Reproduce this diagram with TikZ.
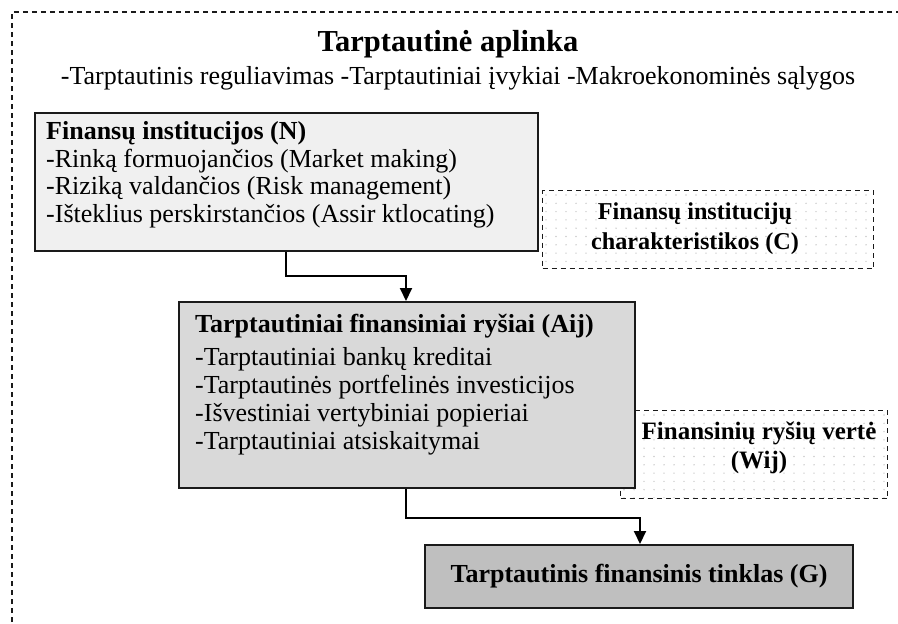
\documentclass[tikz,border=0pt]{standalone}
\usepackage{fontspec}
\setmainfont{Liberation Serif}
\usetikzlibrary{arrows.meta}

\definecolor{fillN}{HTML}{F0F0F0}
\definecolor{fillA}{HTML}{D9D9D9}
\definecolor{fillG}{HTML}{BFBFBF}
\definecolor{dotgray}{HTML}{CCCCCC}
\definecolor{edge}{HTML}{1A1A1A}

\tikzset{
  solidbox/.style={draw=edge, line width=2pt, anchor=north west, inner sep=0pt},
  dashbox/.style={draw=edge, line width=1.4pt, dash pattern=on 5pt off 4pt, anchor=north west, inner sep=0pt},
  bodytxt/.style={anchor=west, inner sep=0pt, font=\fontsize{26}{28}\selectfont},
  headtxt/.style={anchor=west, inner sep=0pt, font=\fontsize{26}{28}\selectfont\bfseries},
  sidetxt/.style={align=center, inner sep=0pt},
  arr/.style={draw=black, line width=2pt, -{Triangle[width=12pt,length=13pt]}},
}

\begin{document}
\begin{tikzpicture}[x=1pt,y=-1pt]
\useasboundingbox (0,0) rectangle (898,624);
\clip (0,0) rectangle (898,624);

% outer environment frame (continues past the page edges)
\draw[edge, line width=1.4pt, dash pattern=on 5pt off 4pt] (12,640) -- (12,12) -- (910,12);

% title and subtitle
\node[inner sep=0pt, font=\fontsize{30.5}{32}\selectfont\bfseries] (title) at (448,44) {Tarptautinė aplinka};
\node[inner sep=0pt, font=\fontsize{26}{28}\selectfont] (sub) at (458,78)
  {-Tarptautinis reguliavimas -Tarptautiniai įvykiai -Makroekonominės sąlygos};

% institutions characteristics (dotted)
\begin{scope}
  \clip (543,191) rectangle (872,267);
  \foreach \j in {0,...,9} \foreach \i in {0,...,33}
    \fill[dotgray] (546+\i*10, 195+\j*8.3) circle (0.8pt);
\end{scope}
\node[dashbox, minimum width=331pt, minimum height=78pt] (C) at (542,190) {};
\node[sidetxt, font=\fontsize{24.2}{30}\selectfont\bfseries] (Ct) at (695,229) {Finansų institucijų\\charakteristikos (C)};

% value of financial links (dotted)
\begin{scope}
  \clip (621,411) rectangle (886,497);
  \foreach \j in {0,...,10} \foreach \i in {0,...,27}
    \fill[dotgray] (624+\i*10, 415+\j*8.3) circle (0.8pt);
\end{scope}
\node[dashbox, minimum width=267pt, minimum height=88pt] (W) at (620,410) {};
\node[sidetxt, font=\fontsize{25}{29}\selectfont\bfseries] (Wt) at (759,448) {Finansinių ryšių vertė\\(Wij)};

% financial institutions
\node[solidbox, fill=fillN, minimum width=503pt, minimum height=138pt] (N) at (34,112) {};
\node[headtxt] (N0) at (46,133) {Finansų institucijos (N)};
\node[bodytxt] (N1) at (46,161) {-Rinką formuojančios (Market making)};
\node[bodytxt] (N2) at (46,188) {-Riziką valdančios (Risk management)};
\node[bodytxt] (N3) at (46,216) {-Išteklius perskirstančios (Assir ktlocating)};

% international financial links
\node[solidbox, fill=fillA, minimum width=456pt, minimum height=186pt] (A) at (178,301) {};
\node[headtxt] (A0) at (195,326) {Tarptautiniai finansiniai ryšiai (Aij)};
\node[bodytxt] (A1) at (195,359) {-Tarptautiniai bankų kreditai};
\node[bodytxt] (A2) at (195,387) {-Tarptautinės portfelinės investicijos};
\node[bodytxt] (A3) at (195,415) {-Išvestiniai vertybiniai popieriai};
\node[bodytxt] (A4) at (195,443) {-Tarptautiniai atsiskaitymai};

% international financial network
\node[solidbox, fill=fillG, minimum width=428pt, minimum height=63pt] (G) at (424,544) {};
\node[inner sep=0pt, font=\fontsize{26}{28}\selectfont\bfseries] (Gt) at (G.center) {Tarptautinis finansinis tinklas (G)};

% connectors
\draw[arr] (N.south -| 286,0) -- ++(0,24) -| (A.north -| 406,0);
\draw[arr] (A.south -| 406,0) -- ++(0,29) -| (G.north -| 640,0);
\end{tikzpicture}
\end{document}
